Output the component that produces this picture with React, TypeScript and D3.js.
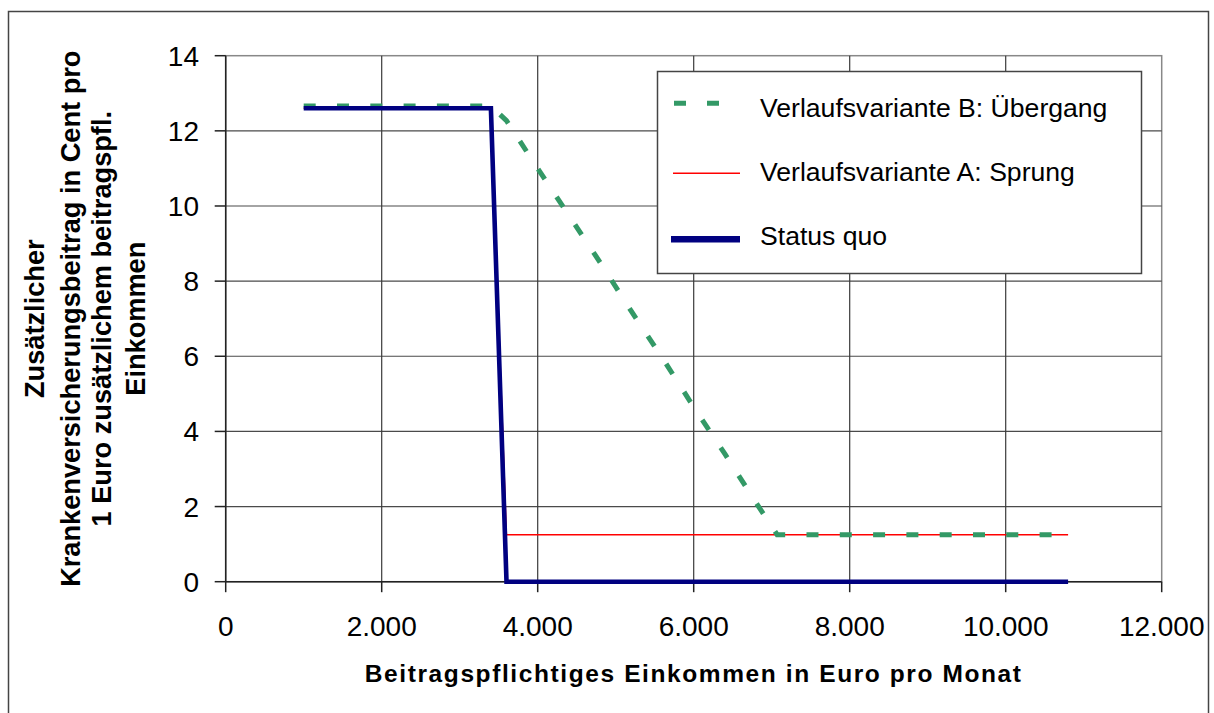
import React from "react";
import * as d3 from "d3";

const xTicks = [0, 2000, 4000, 6000, 8000, 10000, 12000];
const yTicks = [0, 2, 4, 6, 8, 10, 12, 14];

const statusQuoX = [1000, 3400, 3600, 10800];
const statusQuoY = [12.6, 12.6, 0, 0];

const variantAX = [1000, 3400, 3600, 10800];
const variantAY = [12.6, 12.6, 1.25, 1.25];

const variantBX = [1000, 3400, 3600, 4000, 4400, 4800, 5200, 5600, 6000, 6400, 6800, 7070, 10800];
const variantBY = [12.66, 12.66, 12.27, 11.0, 9.75, 8.5, 7.2, 5.95, 4.65, 3.4, 2.1, 1.25, 1.25];

const legendLabels = [
  "Verlaufsvariante B: Übergang",
  "Verlaufsvariante A: Sprung",
  "Status quo",
];

const yTitleLines = [
  "Zusätzlicher",
  "Krankenversicherungsbeitrag in Cent pro",
  "1 Euro zusätzlichem beitragspfl.",
  "Einkommen",
];
const xTitle = "Beitragspflichtiges Einkommen in Euro pro Monat";

const FONT = "'Liberation Sans', Arial, sans-serif";

export default function App() {
  const W = 1214, H = 713;
  const x = d3.scaleLinear().domain([0, 12000]).range([225.7, 1161.7]);
  const y = d3.scaleLinear().domain([0, 14]).range([581.7, 55.7]);
  const line = d3
    .line<[number, number]>()
    .x((d) => x(d[0]))
    .y((d) => y(d[1]));
  const zip = (a: number[], b: number[]) => a.map((v, i) => [v, b[i]] as [number, number]);
  const fmt = (v: number) => d3.format(",")(v).replace(/,/g, ".");

  const x0 = x(0), x1 = x(12000), y0 = y(0), y1 = y(14);
  const yMid = (y0 + y1) / 2;
  const xMid = (x0 + x1) / 2;

  return (
    <svg width={W} height={H} style={{ position: "absolute", left: 0, top: 0, background: "#fff" }}>
      <rect x={8.5} y={11.5} width={1200} height={760} fill="#fff" stroke="#444" strokeWidth={1.5} />
      {/* plot border */}
      <rect x={x0} y={y1} width={x1 - x0} height={y0 - y1} fill="none" stroke="#888" strokeWidth={1.5} />
      {/* grid */}
      {yTicks.slice(1, -1).map((t) => (
        <line key={"gy" + t} x1={x0} x2={x1} y1={y(t)} y2={y(t)} stroke="#4a4a4a" strokeWidth={1.2} />
      ))}
      {xTicks.slice(1, -1).map((t) => (
        <line key={"gx" + t} x1={x(t)} x2={x(t)} y1={y1} y2={y0} stroke="#3a3a3a" strokeWidth={1.2} />
      ))}
      {/* axes */}
      <line x1={x0} x2={x0} y1={y1} y2={y0} stroke="#222" strokeWidth={1.5} />
      <line x1={x0} x2={x1} y1={y0} y2={y0} stroke="#222" strokeWidth={1.5} />
      {yTicks.map((t) => (
        <g key={"ty" + t}>
          <line x1={x0 - 11} x2={x0} y1={y(t)} y2={y(t)} stroke="#222" strokeWidth={1.5} />
          <text x={199} y={y(t) + 10} textAnchor="end" fontFamily={FONT} fontSize={28} fill="#000">
            {t}
          </text>
        </g>
      ))}
      {xTicks.map((t) => (
        <g key={"tx" + t}>
          <line x1={x(t)} x2={x(t)} y1={y0} y2={y0 + 10.5} stroke="#222" strokeWidth={1.5} />
          <text x={x(t)} y={636} textAnchor="middle" fontFamily={FONT} fontSize={28} fill="#000">
            {fmt(t)}
          </text>
        </g>
      ))}
      {/* series */}
      <path d={line(zip(variantAX, variantAY)) || ""} fill="none" stroke="#ff0000" strokeWidth={1.3} />
      <path
        d={line(zip(variantBX, variantBY)) || ""}
        fill="none"
        stroke="#339966"
        strokeWidth={5}
        strokeDasharray="12,21.3"
      />
      <path d={line(zip(statusQuoX, statusQuoY)) || ""} fill="none" stroke="#000080" strokeWidth={4.6} />
      {/* legend */}
      <rect x={657.5} y={71.5} width={484} height={202} fill="#fff" stroke="#444" strokeWidth={1.5} />
      <line x1={674} x2={720} y1={103.3} y2={103.3} stroke="#339966" strokeWidth={5} strokeDasharray="12,21" />
      <line x1={673} x2={740} y1={173.3} y2={173.3} stroke="#ff0000" strokeWidth={1.5} />
      <line x1={671} x2={740} y1={239.3} y2={239.3} stroke="#000080" strokeWidth={6.5} />
      {legendLabels.map((l, i) => (
        <text key={l} x={760} y={[116.7, 180.7, 245][i]} fontFamily={FONT} fontSize={26.6} fill="#000">
          {l}
        </text>
      ))}
      {/* titles */}
      <text
        x={xMid}
        y={681.7}
        textAnchor="middle"
        fontFamily={FONT}
        fontSize={24.5}
        fontWeight="bold"
        letterSpacing={1.6}
        fill="#000"
      >
        {xTitle}
      </text>
      <g transform={`translate(0, ${yMid}) rotate(-90)`}>
        {yTitleLines.map((l, i) => (
          <text
            key={l}
            x={0}
            y={[34, 70, 101, 135][i] + 9.5}
            textAnchor="middle"
            fontFamily={FONT}
            fontSize={27.2}
            fontWeight="bold"
            fill="#000"
          >
            {l}
          </text>
        ))}
      </g>
    </svg>
  );
}
